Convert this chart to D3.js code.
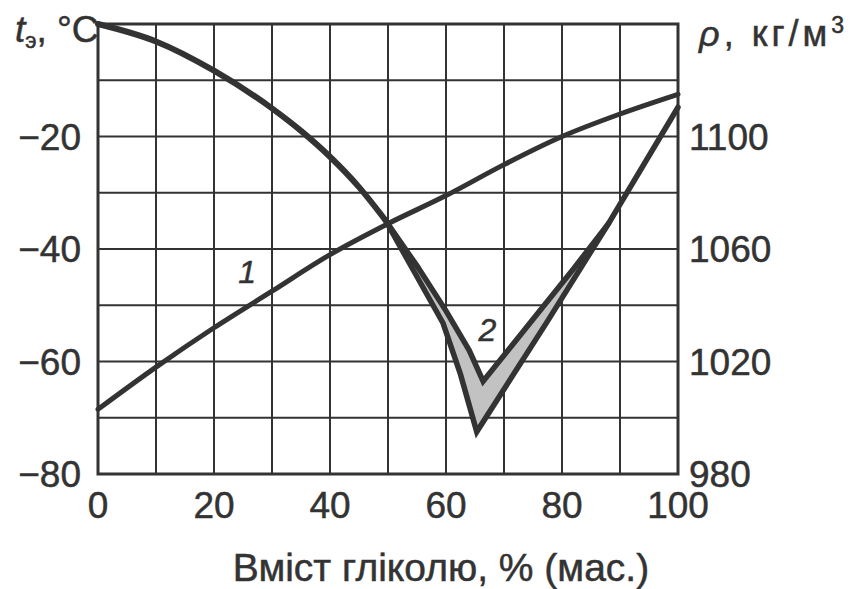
<!DOCTYPE html>
<html>
<head>
<meta charset="utf-8">
<title>Температура замерзання і густина розчинів гліколю</title>
<script src="https://d3js.org/d3.v7.min.js"></script>
<style>
    body { margin: 0; background: #fff; }
    text { font-family: "Liberation Sans", Arial, sans-serif; fill: #333; stroke: #333; stroke-width: 0.5px; }
</style>
</head>
<body>
<svg width="855" height="589"></svg>
<script>
    // вміст гліколю, % (мас.)
    var glycol = [0, 10, 20, 30, 40, 50, 60, 70, 80, 90, 100];
    // крива 1 - густина, кг/м3
    var density = [1003, 1018, 1032, 1045, 1058, 1069, 1079, 1090, 1100, 1108, 1115];

    // крива 2 - температура замерзання, верхня гілка (до розгалуження)
    var freezeX = [0, 10, 20, 30, 35, 40, 45, 49.5];
    var freezeT = [0, -3.1, -8.3, -15, -19, -23.6, -29, -34.8];
    // нижня межа (зовнішня V)
    var outerX = [49.5, 54.5, 59.5, 62.5, 65.3, 77.4, 88, 100];
    var outerT = [-34.8, -44, -53.2, -62.3, -72.5, -53, -35.5, -14.8];
    // верхня межа (внутрішня V)
    var innerX = [49.5, 55, 60, 64, 66.4, 75, 82, 88];
    var innerT = [-34.8, -43, -51, -58, -63.5, -52.5, -43.5, -35.5];

    var xTicks = [0, 20, 40, 60, 80, 100];
    var tTicks = [-20, -40, -60, -80];
    var rhoTicks = [1100, 1060, 1020, 980];

    var svg = d3.select("svg");
    var pLeft = 98, pRight = 678, pTop = 24, pBottom = 474;
    var ink = "#333";

    var x = d3.scaleLinear().domain([0, 100]).range([pLeft, pRight]);
    var y = d3.scaleLinear().domain([-80, 0]).range([pBottom, pTop]);
    var yR = d3.scaleLinear().domain([980, 1140]).range([pBottom, pTop]);

    // сітка
    var grid = svg.append("g").attr("stroke", ink).attr("stroke-width", 2);
    grid.selectAll("line.v")
        .data(d3.range(10, 100, 10))
        .enter().append("line").attr("class", "v")
        .attr("x1", function (d) { return x(d); })
        .attr("x2", function (d) { return x(d); })
        .attr("y1", pTop).attr("y2", pBottom);
    grid.selectAll("line.h")
        .data(d3.range(-70, 0, 10))
        .enter().append("line").attr("class", "h")
        .attr("y1", function (d) { return y(d); })
        .attr("y2", function (d) { return y(d); })
        .attr("x1", pLeft).attr("x2", pRight);
    svg.append("rect")
        .attr("x", pLeft).attr("y", pTop)
        .attr("width", pRight - pLeft).attr("height", pBottom - pTop)
        .attr("fill", "none").attr("stroke", ink).attr("stroke-width", 3);

    // заливка між межами кривої 2
    var band = [];
    outerX.forEach(function (v, i) { if (v <= 88) band.push([v, outerT[i]]); });
    for (var i = innerX.length - 1; i >= 0; i--) band.push([innerX[i], innerT[i]]);
    svg.append("path")
        .datum(band)
        .attr("d", d3.line().x(function (d) { return x(d[0]); }).y(function (d) { return y(d[1]); }))
        .attr("fill", "#c2c2c2");

    var lineT = d3.line()
        .x(function (d) { return x(d[0]); })
        .y(function (d) { return y(d[1]); });

    // крива 1
    svg.append("path")
        .datum(glycol.map(function (g, i) { return [g, density[i]]; }))
        .attr("d", d3.line().curve(d3.curveMonotoneX)
            .x(function (d) { return x(d[0]); })
            .y(function (d) { return yR(d[1]); }))
        .attr("fill", "none").attr("stroke", ink).attr("stroke-width", 5)
        .attr("stroke-linecap", "round");

    // крива 2
    svg.append("path")
        .datum(freezeX.map(function (g, i) { return [g, freezeT[i]]; }))
        .attr("d", lineT.curve(d3.curveMonotoneX))
        .attr("fill", "none").attr("stroke", ink).attr("stroke-width", 6)
        .attr("stroke-linecap", "round");
    lineT.curve(d3.curveLinear);
    svg.append("path")
        .datum(outerX.map(function (g, i) { return [g, outerT[i]]; }))
        .attr("d", lineT)
        .attr("fill", "none").attr("stroke", ink).attr("stroke-width", 5.5)
        .attr("stroke-linejoin", "miter").attr("stroke-miterlimit", 12)
        .attr("stroke-linecap", "round");
    svg.append("path")
        .datum(innerX.map(function (g, i) { return [g, innerT[i]]; }))
        .attr("d", lineT)
        .attr("fill", "none").attr("stroke", ink).attr("stroke-width", 5.5)
        .attr("stroke-linejoin", "miter").attr("stroke-miterlimit", 12)
        .attr("stroke-linecap", "round");

    // підписи кривих
    svg.append("text").attr("x", x(24.2)).attr("y", y(-46))
        .attr("font-size", 32).attr("font-style", "italic").text("1");
    svg.append("text").attr("x", x(65.6)).attr("y", y(-56.3))
        .attr("font-size", 32).attr("font-style", "italic").text("2");

    // осі
    svg.selectAll("text.tl")
        .data(tTicks)
        .enter().append("text").attr("class", "tl")
        .attr("x", pLeft - 17).attr("y", function (d) { return y(d); })
        .attr("dy", "0.36em").attr("text-anchor", "end").attr("font-size", 37)
        .text(function (d) { return "\u2212" + Math.abs(d); });
    svg.selectAll("text.tr")
        .data(rhoTicks)
        .enter().append("text").attr("class", "tr")
        .attr("x", pRight + 11).attr("y", function (d) { return yR(d); })
        .attr("dy", "0.36em").attr("font-size", 37)
        .text(function (d) { return d; });
    svg.selectAll("text.tx")
        .data(xTicks)
        .enter().append("text").attr("class", "tx")
        .attr("x", function (d) { return x(d); }).attr("y", 518)
        .attr("text-anchor", "middle").attr("font-size", 37)
        .text(function (d) { return d; });

    svg.append("text").attr("x", 441).attr("y", 581)
        .attr("text-anchor", "middle").attr("font-size", 39)
        .text("Вміст гліколю, % (мас.)");

    var tl = svg.append("text").attr("x", 15).attr("y", 42).attr("font-size", 37);
    tl.append("tspan").attr("font-style", "italic").text("t");
    tl.append("tspan").attr("font-size", 22).attr("dy", 6).text("э");
    tl.append("tspan").attr("dy", -6).text(", °C");

    var tr = svg.append("text").attr("x", 699).attr("y", 46).attr("font-size", 36)
        .attr("letter-spacing", 4);
    tr.append("tspan").attr("font-style", "italic").text("ρ");
    tr.append("tspan").text(", кг/м");
    tr.append("tspan").attr("font-size", 23).attr("dy", -13).text("3");
</script>
</body>
</html>
